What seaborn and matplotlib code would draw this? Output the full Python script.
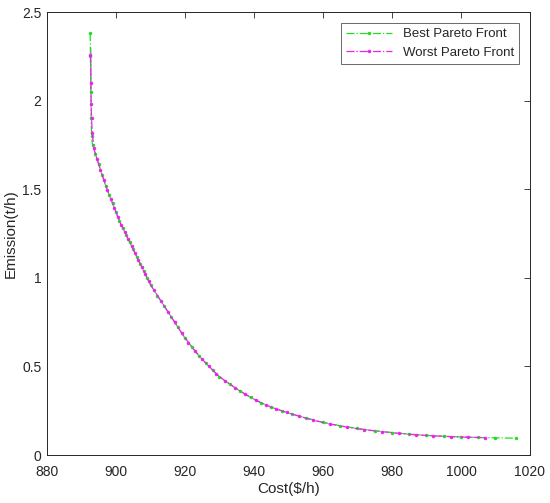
import numpy as np
import pandas as pd
import matplotlib
matplotlib.use('Agg')
import matplotlib.pyplot as plt
import seaborn as sns

# Best Pareto Front
best_cost = [892.5, 892.6, 892.6, 892.7, 892.7, 892.8, 892.9, 893.2, 894, 895,
             896, 897, 898, 899, 900, 901, 902, 903, 904, 905,
             906, 907, 908, 909, 910, 912, 914, 916, 918, 920,
             922, 924, 926, 928, 930, 933, 936, 939, 942, 945,
             948, 951, 955, 960, 965, 970, 975, 980, 985, 990,
             995, 1000, 1005, 1010, 1016]
best_emis = [2.38, 2.30, 2.20, 2.10, 2.00, 1.90, 1.80, 1.75, 1.70, 1.64,
             1.58, 1.52, 1.47, 1.42, 1.37, 1.32, 1.28, 1.24, 1.20, 1.16,
             1.12, 1.08, 1.04, 1.00, 0.96, 0.90, 0.84, 0.78, 0.72, 0.66,
             0.61, 0.56, 0.52, 0.48, 0.44, 0.40, 0.36, 0.325, 0.295, 0.27,
             0.25, 0.23, 0.21, 0.185, 0.165, 0.15, 0.137, 0.127, 0.118, 0.111,
             0.106, 0.102, 0.099, 0.097, 0.095]

# Worst Pareto Front
worst_cost = [892.6, 892.6, 892.7, 892.7, 892.8, 892.9, 893.1, 893.6, 894.5, 895.5,
              896.5, 897.5, 898.5, 899.5, 900.5, 901.5, 902.5, 903.5, 904.5, 905.5,
              906.5, 907.5, 908.5, 909.5, 911, 913, 915, 917, 919, 921,
              923, 925, 927, 929, 931.5, 934.5, 937.5, 940.5, 943.5, 946.5,
              949.5, 953, 957, 962, 967, 972, 977, 982, 987, 992,
              997, 1002, 1007]
worst_emis = [2.30, 2.22, 2.14, 2.06, 1.98, 1.90, 1.82, 1.73, 1.67, 1.61,
              1.55, 1.495, 1.445, 1.395, 1.345, 1.30, 1.26, 1.22, 1.18, 1.14,
              1.10, 1.06, 1.02, 0.98, 0.93, 0.87, 0.81, 0.75, 0.69, 0.635,
              0.585, 0.54, 0.50, 0.46, 0.42, 0.38, 0.343, 0.31, 0.282, 0.26,
              0.24, 0.22, 0.197, 0.175, 0.157, 0.143, 0.132, 0.122, 0.114, 0.108,
              0.104, 0.100, 0.098]

sns.set_style('white')
plt.rcParams['font.family'] = ['Liberation Sans', 'DejaVu Sans']

fig = plt.figure(figsize=(5.5, 5.03), dpi=100)
ax = fig.add_axes([0.0855, 0.0954, 0.878, 0.8806])

df_best = pd.DataFrame({'cost': best_cost, 'emis': best_emis})
df_worst = pd.DataFrame({'cost': worst_cost, 'emis': worst_emis})

sns.lineplot(data=df_best, x='cost', y='emis', sort=False, ax=ax, color='#22dd22',
             linestyle='-.', linewidth=0.9, marker='.', markersize=5,
             markeredgewidth=0, label='Best Pareto Front')
sns.lineplot(data=df_worst, x='cost', y='emis', sort=False, ax=ax, color='#ee22ee',
             linestyle='-.', linewidth=0.9, marker='.', markersize=5,
             markeredgewidth=0, label='Worst Pareto Front')

ax.set_xlim(880, 1020)
ax.set_ylim(0, 2.5)
ax.set_xticks(np.arange(880, 1021, 20))
ax.set_yticks([0, 0.5, 1, 1.5, 2, 2.5])
ax.set_yticklabels(['0', '0.5', '1', '1.5', '2', '2.5'])
ax.set_xlabel('Cost($/h)', fontsize=11, labelpad=2)
ax.set_ylabel('Emission(t/h)', fontsize=11, labelpad=3)
ax.tick_params(direction='in', length=4, width=0.6, color='#262626',
               top=True, right=True, labelsize=10, labelcolor='#262626', pad=4)
ax.tick_params(axis='x', pad=7)
for s in ax.spines.values():
    s.set_linewidth(0.7)
    s.set_color('#262626')

leg = ax.legend(loc='upper right', fontsize=9.5, frameon=True, fancybox=False,
                edgecolor='#262626', handlelength=3.5, borderaxespad=0.8)
leg.get_frame().set_linewidth(0.6)

fig.savefig('out.png', dpi=100)
